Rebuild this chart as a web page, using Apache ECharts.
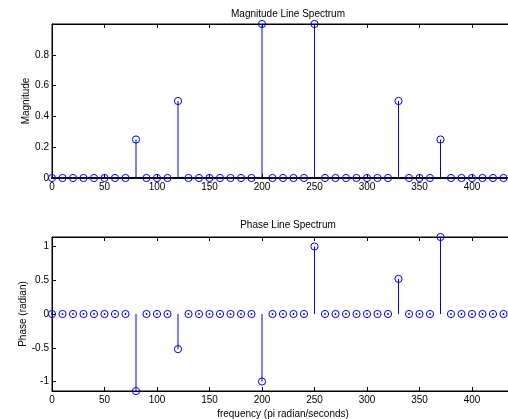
<!DOCTYPE html>
<html>
<head>
<meta charset="utf-8">
<script src="https://cdn.jsdelivr.net/npm/echarts@6/dist/echarts.min.js"></script>
<style>
html,body{margin:0;padding:0;background:#fff;}
#c{width:508px;height:419px;}
</style>
</head>
<body>
<div id="c"></div>
<script>
var frequencies = [0,10,20,30,40,50,60,70,80,90,100,110,120,130,140,150,160,170,180,190,200,210,220,230,240,250,260,270,280,290,300,310,320,330,340,350,360,370,380,390,400,410,420,430];
var magnitude = [0,0,0,0,0,0,0,0,0.25,0,0,0,0.5,0,0,0,0,0,0,0,1,0,0,0,0,1,0,0,0,0,0,0,0,0.5,0,0,0,0.25,0,0,0,0,0,0];
var phase = [0,0,0,0,0,0,0,0,-1.14,0,0,0,-0.52,0,0,0,0,0,0,0,-1,0,0,0,0,1,0,0,0,0,0,0,0,0.52,0,0,0,1.14,0,0,0,0,0,0];
var magTicks = [0,0.2,0.4,0.6,0.8];
var phaseTicks = [-1,-0.5,0,0.5,1];
var xTicks = [0,50,100,150,200,250,300,350,400];

var FONT = 'Liberation Sans, Arial, sans-serif';
var BLUE = '#0000ff';

function stemRender(params, api) {
  var x = api.value(0), y = api.value(1);
  var p0 = api.coord([x, 0]);
  var p1 = api.coord([x, y]);
  var children = [];
  if (y !== 0) {
    children.push({type:'line', shape:{x1:p0[0], y1:p0[1], x2:p1[0], y2:p1[1]}, style:{stroke:BLUE, lineWidth:1}});
  } else {
    children.push({type:'circle', shape:{cx:p1[0], cy:p1[1], r:0.9}, style:{fill:BLUE}});
  }
  children.push({type:'circle', shape:{cx:p1[0], cy:p1[1], r:3.6}, style:{fill:'none', stroke:BLUE, lineWidth:1}});
  return {type:'group', children:children};
}

function xAx(gi, pos, showLabel, name, lw) {
  return {
    type:'value', gridIndex:gi, position:pos, min:0, max:440,
    axisLine:{show:true, onZero:false, lineStyle:{color:'#000', width:lw||1}},
    axisTick:{show:true, inside:true, length:4, customValues:xTicks, lineStyle:{color:'#000'}},
    axisLabel:{show:showLabel, customValues:xTicks, margin:4, color:'#000', fontSize:10, fontFamily:FONT},
    splitLine:{show:false},
    name:name||'', nameLocation:'middle', nameGap:18, nameMoveOverlap:false,
    nameTextStyle:{color:'#000', fontSize:10, fontFamily:FONT}
  };
}
function yAx(gi, mn, mx, ticks, name, gap) {
  return {
    type:'value', gridIndex:gi, min:mn, max:mx,
    axisLine:{show:true, onZero:false, lineStyle:{color:'#000', width:1}},
    axisTick:{show:true, inside:true, length:4, customValues:ticks, lineStyle:{color:'#000'}},
    axisLabel:{customValues:ticks, margin:3, color:'#000', fontSize:10, fontFamily:FONT},
    splitLine:{show:false},
    name:name, nameLocation:'middle', nameGap:gap, nameRotate:90, nameMoveOverlap:false,
    nameTextStyle:{color:'#000', fontSize:10, fontFamily:FONT}
  };
}

var chart = echarts.init(document.getElementById('c'), null, {renderer:'canvas'});
chart.setOption({
  animation:false,
  backgroundColor:'#fff',
  title:[
    {text:'Magnitude Line Spectrum', left:283, top:4, textAlign:'center', textStyle:{fontSize:10, fontWeight:'normal', color:'#000', fontFamily:FONT}},
    {text:'Phase Line Spectrum', left:283, top:215, textAlign:'center', textStyle:{fontSize:10, fontWeight:'normal', color:'#000', fontFamily:FONT}}
  ],
  grid:[
    {left:52, right:-6, top:24, height:154, outerBoundsMode:'none', containLabel:false, show:true, borderColor:'#000', borderWidth:1, backgroundColor:'transparent'},
    {left:52, right:-6, top:237, height:154, outerBoundsMode:'none', containLabel:false, show:true, borderColor:'#000', borderWidth:1, backgroundColor:'transparent'}
  ],
  xAxis:[
    xAx(0,'bottom',true,'',2), xAx(0,'top',false),
    xAx(1,'bottom',true,'frequency (pi radian/seconds)'), xAx(1,'top',false)
  ],
  yAxis:[
    yAx(0,0,1,magTicks,'Magnitude',21),
    yAx(1,-1.14,1.14,phaseTicks,'Phase (radian)',24)
  ],
  series:[
    {type:'custom', xAxisIndex:0, yAxisIndex:0, clip:false, renderItem:stemRender,
     data: frequencies.map(function(f,i){return [f, magnitude[i]];})},
    {type:'custom', xAxisIndex:2, yAxisIndex:1, clip:false, renderItem:stemRender,
     data: frequencies.map(function(f,i){return [f, phase[i]];})}
  ]
});
</script>
</body>
</html>
